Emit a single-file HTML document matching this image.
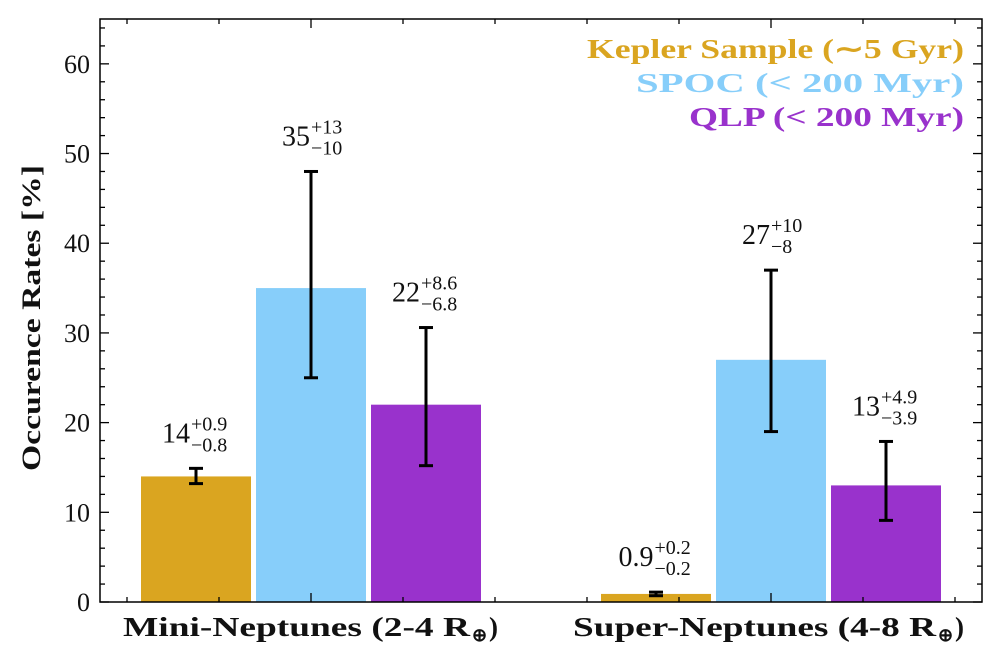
<!DOCTYPE html>
<html><head><meta charset="utf-8"><style>
body{margin:0;background:#fff}
svg{display:block;font-family:"Liberation Serif",serif}
</style></head><body>
<svg id="chart" width="1000" height="662" viewBox="0 0 1000 662"></svg>
<script>
const categories=["Mini-Neptunes (2-4 R","Super-Neptunes (4-8 R"];
const seriesNames=["Kepler Sample (∼5 Gyr)","SPOC (< 200 Myr)","QLP (< 200 Myr)"];
const seriesColors=["#DAA520","#87CEFA","#9932CC"];
const values=[[14,0.9],[35,27],[22,13]];
const errPlus=[[0.9,0.2],[13,10],[8.6,4.9]];
const errMinus=[[0.8,0.2],[10,8],[6.8,3.9]];
const valueLabels=[["14","0.9"],["35","27"],["22","13"]];
const plusLabels=[["+0.9","+0.2"],["+13","+10"],["+8.6","+4.9"]];
const minusLabels=[["−0.8","−0.2"],["−10","−8"],["−6.8","−3.9"]];
const yTicks=[0,10,20,30,40,50,60];

const NS="http://www.w3.org/2000/svg";
const svg=document.getElementById('chart');
const L=100,R=982,T=19,B=602,YMAX=65;
const y=v=>B-v/YMAX*(B-T);
const catX=i=>311+i*460;
const barW=110,gap=5;
const barX=(c,s)=>catX(c)+(s-1)*(barW+gap)-barW/2;
function el(tag,attrs,parent){const e=document.createElementNS(NS,tag);for(const k in attrs)e.setAttribute(k,attrs[k]);(parent||svg).appendChild(e);return e;}

for(let s=0;s<3;s++)for(let c=0;c<2;c++){
  const x=barX(c,s);
  const r=el('rect',{x:x,y:y(values[s][c]),width:barW,height:B-y(values[s][c]),fill:seriesColors[s]});
  
  
  const cx=x+barW/2,hi=y(values[s][c]+errPlus[s][c]),lo=y(values[s][c]-errMinus[s][c]);
  const g=el('g',{stroke:'#000','stroke-width':3});
  
  
  el('line',{x1:cx,x2:cx,y1:hi,y2:lo},g);
  el('line',{x1:cx-7,x2:cx+7,y1:hi,y2:hi},g);
  el('line',{x1:cx-7,x2:cx+7,y1:lo,y2:lo},g);
  const ty=hi-26;
  const numW=valueLabels[s][c].replace('.','').length*14+(valueLabels[s][c].includes('.')?7:0);
  const supW=Math.max(plusLabels[s][c].length,minusLabels[s][c].length)*10;
  const start=cx-(numW+supW)/2;
  const t=el('text',{x:start,y:ty,'font-size':28,fill:'#111'});
  
  
  t.textContent=valueLabels[s][c];
  const sx=start+numW+1;
  const p=el('text',{x:sx,y:ty-12,'font-size':20,fill:'#111'});
  
  
  p.textContent=plusLabels[s][c];
  const m=el('text',{x:sx,y:ty+9,'font-size':20,fill:'#111'});
  
  
  m.textContent=minusLabels[s][c];
}

const fr=el('rect',{x:L,y:T,width:R-L,height:B-T,fill:'none',stroke:'#000','stroke-width':1.5});


for(let v=0;v<=64;v+=2){
  const major=v%10===0,len=major?9:5,yy=y(v);
  el('line',{x1:L,x2:L+len,y1:yy,y2:yy,stroke:'#000','stroke-width':1.3});
  el('line',{x1:R,x2:R-len,y1:yy,y2:yy,stroke:'#000','stroke-width':1.3});
}
yTicks.forEach(v=>{
  const t=el('text',{x:L-10,y:y(v)+9,'font-size':26,'text-anchor':'end',fill:'#111'});
  
  
  t.textContent=v;
});
for(let k=-2;k<=7;k++){
  const xx=311+k*92;if(xx<=L||xx>=R)continue;
  const major=(k===0||k===5),len=major?9:5;
  el('line',{x1:xx,x2:xx,y1:B,y2:B-len,stroke:'#000','stroke-width':1.3});
  el('line',{x1:xx,x2:xx,y1:T,y2:T+len,stroke:'#000','stroke-width':1.3});
}
const catStart=[123,573],catLen=[347,363];
categories.forEach((c,i)=>{
  const t=el('text',{x:catStart[i],y:636,'font-size':27,'font-weight':'bold',fill:'#111',textLength:catLen[i],lengthAdjust:'spacingAndGlyphs'});
  
  
  t.textContent=c;
  const rx=catStart[i]+catLen[i]+2;
  const t2=el('text',{x:rx,y:641,'font-size':18,'font-weight':'bold',fill:'#111'});
  
  
  t2.textContent='⊕';
  const t3=el('text',{x:rx+17,y:636,'font-size':27,'font-weight':'bold',fill:'#111'});
  
  
  t3.textContent=')';
});
const yl=el('text',{x:0,y:0,'font-size':26,'font-weight':'bold','text-anchor':'middle',fill:'#111',transform:'translate(40,318) rotate(-90)',textLength:306,lengthAdjust:'spacingAndGlyphs'});


yl.textContent='Occurence Rates [%]';
const legW=[377,328,275];
seriesNames.forEach((n,i)=>{
  const t=el('text',{x:964-legW[i],y:58+i*34,'font-size':27,'font-weight':'bold',fill:seriesColors[i],textLength:legW[i],lengthAdjust:'spacingAndGlyphs'});
  
  
  t.textContent=n;
});
</script>
</body></html>
